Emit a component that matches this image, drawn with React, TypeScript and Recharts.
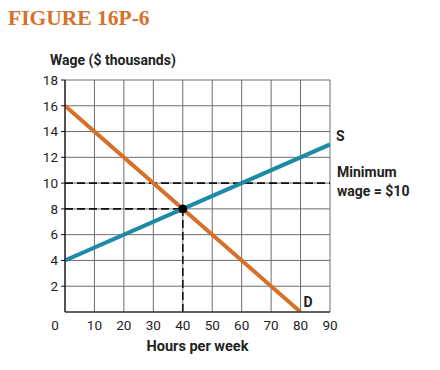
import {
  LineChart,
  Line,
  XAxis,
  YAxis,
  CartesianGrid,
  ReferenceLine,
  ReferenceDot,
} from "recharts";

const HOURS_TICKS = [0, 10, 20, 30, 40, 50, 60, 70, 80, 90];
const WAGE_TICKS = [2, 4, 6, 8, 10, 12, 14, 16, 18];

// supply / demand endpoints (hours, wage)
const SUPPLY = [
  { x: 0, y: 4 },
  { x: 90, y: 13 },
];
const DEMAND = [
  { x: 0, y: 16 },
  { x: 80, y: 0 },
];

const MIN_WAGE = 10;
const EQ_HOURS = 40;
const EQ_WAGE = 8;

const ORANGE = "#d5712a";
const TEAL = "#1f8aa6";
const FONT = 'Roboto, "Liberation Sans", Arial, sans-serif';

function XTick(props: any) {
  const { x, y, payload } = props;
  const dx = payload.value === 0 ? -10 : 0;
  return (
    <text x={x + dx} y={y + 10} textAnchor="middle" fontSize={13.5} fill="#222" fontFamily={FONT}>
      {payload.value}
    </text>
  );
}

function MinWageLabel(props: any) {
  const vb = props.viewBox || {};
  const x = vb.x + vb.width + 7;
  const y = vb.y;
  return (
    <text fontSize={14} fontWeight={700} fill="#222" fontFamily={FONT}>
      <tspan x={x} y={y - 6}>Minimum</tspan>
      <tspan x={x} y={y + 13}>wage = $10</tspan>
    </text>
  );
}

function EndLabel(text: string, dx: number, dy: number) {
  return (props: any) => {
    const vb = props.viewBox || {};
    const cx = vb.x + (vb.width || 0) / 2;
    const cy = vb.y + (vb.height || 0) / 2;
    return (
      <text x={cx + dx} y={cy + dy} fontSize={14} fontWeight={700} fill="#222" fontFamily={FONT}>
        {text}
      </text>
    );
  };
}

export default function App() {
  return (
    <div style={{ position: "absolute", left: 0, top: 0, width: 440, height: 370, background: "#fff" }}>
      <div
        style={{
          position: "absolute",
          left: 8,
          top: 6,
          fontFamily: '"Liberation Serif", serif',
          fontWeight: 700,
          fontSize: 21.5,
          color: ORANGE,
          whiteSpace: "nowrap",
        }}
      >
        FIGURE 16P-6
      </div>
      <div
        style={{
          position: "absolute",
          left: 50,
          top: 52,
          fontFamily: FONT,
          fontWeight: 700,
          fontSize: 14,
          color: "#222",
          whiteSpace: "nowrap",
        }}
      >
        Wage ($ thousands)
      </div>
      <div
        style={{
          position: "absolute",
          left: 65,
          width: 265,
          top: 338,
          textAlign: "center",
          fontFamily: FONT,
          fontWeight: 700,
          fontSize: 14.5,
          color: "#222",
        }}
      >
        Hours per week
      </div>

      <div style={{ position: "absolute", left: 0, top: 0 }}>
        <LineChart width={440} height={370} margin={{ top: 80, right: 110, bottom: 0, left: 0 }}>
          <CartesianGrid stroke="#6e6e6e" strokeWidth={1} />
          <XAxis
            type="number"
            dataKey="x"
            domain={[0, 90]}
            ticks={HOURS_TICKS}
            tickLine={false}
            axisLine={{ stroke: "#111", strokeWidth: 1.2 }}
            height={58}
            tick={<XTick />}
            allowDataOverflow
          />
          <YAxis
            type="number"
            dataKey="y"
            domain={[0, 18]}
            ticks={WAGE_TICKS}
            tickSize={4}
            tickMargin={3}
            width={65}
            axisLine={{ stroke: "#111", strokeWidth: 1.2 }}
            tickLine={{ stroke: "#111" }}
            tick={{ fontSize: 13.5, fill: "#222", fontFamily: FONT }}
            allowDataOverflow
          />
          <ReferenceLine
            segment={[{ x: 0, y: MIN_WAGE }, { x: 90, y: MIN_WAGE }]}
            stroke="#111"
            strokeWidth={1.6}
            strokeDasharray="8 4"
            label={<MinWageLabel />}
          />
          <ReferenceLine
            segment={[{ x: 0, y: EQ_WAGE }, { x: EQ_HOURS, y: EQ_WAGE }]}
            stroke="#111"
            strokeWidth={1.6}
            strokeDasharray="8 4"
          />
          <ReferenceLine
            segment={[{ x: EQ_HOURS, y: 0 }, { x: EQ_HOURS, y: EQ_WAGE }]}
            stroke="#111"
            strokeWidth={1.6}
            strokeDasharray="8 4"
          />
          <Line
            data={DEMAND}
            dataKey="y"
            type="linear"
            stroke={ORANGE}
            strokeWidth={4}
            dot={false}
            isAnimationActive={false}
          />
          <Line
            data={SUPPLY}
            dataKey="y"
            type="linear"
            stroke={TEAL}
            strokeWidth={4}
            dot={false}
            isAnimationActive={false}
          />
          <ReferenceDot x={EQ_HOURS} y={EQ_WAGE} r={4} fill="#000" stroke="#000" />
          <ReferenceDot
            x={SUPPLY[1].x}
            y={SUPPLY[1].y}
            r={0}
            fill="none"
            stroke="none"
            ifOverflow="visible"
            label={EndLabel("S", 6, -3)}
          />
          <ReferenceDot
            x={DEMAND[1].x}
            y={DEMAND[1].y}
            r={0}
            fill="none"
            stroke="none"
            ifOverflow="visible"
            label={EndLabel("D", 3, -5)}
          />
        </LineChart>
      </div>
    </div>
  );
}
